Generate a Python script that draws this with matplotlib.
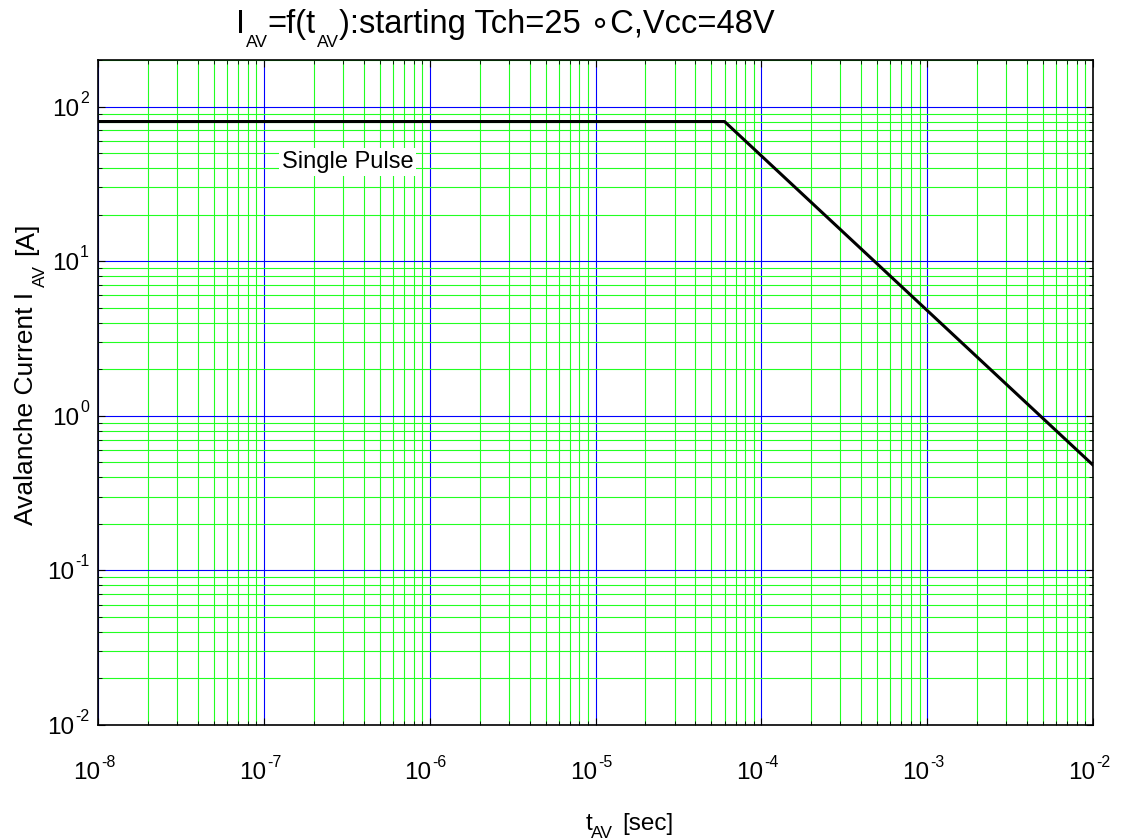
import matplotlib
matplotlib.use("Agg")
import matplotlib.pyplot as plt
from matplotlib.ticker import LogLocator, NullFormatter
from matplotlib.transforms import IdentityTransform
import numpy as np

plt.rcParams['font.family'] = ['Liberation Sans', 'DejaVu Sans']

# ---- data ----
t_av = [1e-8, 6.0e-5, 1e-2]          # avalanche time [s]
i_av = [80.0, 80.0, 0.48]            # avalanche current [A]
x_decades = [-8, -7, -6, -5, -4, -3, -2]
y_decades = [-2, -1, 0, 1, 2]
note_text = 'Single Pulse'

W, H = 1130, 839
fig = plt.figure(figsize=(W / 100, H / 100), dpi=100)
ax = fig.add_axes([98 / W, 1 - 725 / H, (1093 - 98) / W, (725 - 60) / H])
ax.set_xscale('log')
ax.set_yscale('log')
ax.set_xlim(1e-8, 1e-2)
ax.set_ylim(1e-2, 200)

ax.xaxis.set_major_locator(LogLocator(base=10, numticks=20))
ax.xaxis.set_minor_locator(LogLocator(base=10, subs=np.arange(2, 10), numticks=20))
ax.yaxis.set_major_locator(LogLocator(base=10, numticks=20))
ax.yaxis.set_minor_locator(LogLocator(base=10, subs=np.arange(2, 10), numticks=20))
for a in (ax.xaxis, ax.yaxis):
    a.set_major_formatter(NullFormatter())
    a.set_minor_formatter(NullFormatter())

ax.grid(True, which='minor', color='#22ff22', linewidth=0.8)
ax.grid(True, which='major', color='#0000ff', linewidth=0.8)
ax.set_axisbelow(True)

ax.plot(t_av, i_av, color='black', linewidth=2.2, zorder=3)

ax.text(3.2e-7, 44, note_text, fontsize=17, ha='center', va='center',
        bbox=dict(facecolor='white', edgecolor='none', pad=2), zorder=4)

ax.tick_params(which='major', direction='in', length=5, top=True, right=True, color='black')
ax.tick_params(which='minor', direction='in', length=3, top=True, right=True, color='black')
for s in ax.spines.values():
    s.set_linewidth(1.2)

renderer = fig.canvas.get_renderer()
ident = IdentityTransform()


def text_width(s, size):
    t = fig.text(0, 0, s, fontsize=size)
    w = t.get_window_extent(renderer).width
    t.remove()
    return w


def rich(x, y, pieces, rotation=0, center=False):
    """pieces: (text, size, shift_down_px, gap_after_px); x,y display px of baseline start"""
    widths = [text_width(p[0], p[1]) for p in pieces]
    total = sum(widths) + sum(p[3] for p in pieces[:-1])
    pos = -total / 2 if center else 0.0
    for (s, size, dn, gap), w in zip(pieces, widths):
        if rotation == 0:
            px, py = x + pos, y - dn
        else:
            px, py = x + dn, y + pos
        fig.text(px, py, s, fontsize=size, transform=ident, ha='left', va='baseline',
                 rotation=rotation, rotation_mode='anchor')
        pos += w + gap


# ---- tick labels (MATLAB style 10^-n with hyphen) ----
fig.canvas.draw()
x0, y0 = ax.transData.transform((1e-8, 1e-2))
for d in x_decades:
    xp, _ = ax.transData.transform((10.0 ** d, 1e-2))
    fig.text(xp + 2, y0 - 54, '10', fontsize=17.5, transform=ident, ha='right', va='baseline')
    fig.text(xp + 3, y0 - 42, str(d), fontsize=11.5,
             transform=ident, ha='left', va='baseline')
for d in y_decades:
    _, yp = ax.transData.transform((1e-8, 10.0 ** d))
    sup = str(d)
    sw = text_width(sup, 11.5)
    fig.text(x0 - 9, yp + 4, sup, fontsize=11.5, transform=ident, ha='right', va='baseline')
    fig.text(x0 - 9 - sw - 0.5, yp - 9, '10', fontsize=17.5, transform=ident,
             ha='right', va='baseline')

# ---- title ----
rich(505, H - 33, [('I', 23.5, 0, 1), ('AV', 12.5, 14, 0), ('=f(t', 23.5, 0, 1),
                   ('AV', 12.5, 14, 0), ('):starting Tch=25 \u2218C,Vcc=48V', 23.5, 0, 0)],
     center=True)

# ---- x label ----
rich(586, H - 830, [('t', 17.5, 0, -2), ('AV', 12.5, 8, 9), ('[sec]', 17.5, 0, 0)])

# ---- y label ----
rich(33, H - 525, [('Avalanche Current I', 19, 0, 5), ('AV', 12.5, 12, 10), ('[A]', 19, 0, 0)],
     rotation=90)

fig.savefig('out.png', dpi=100)
